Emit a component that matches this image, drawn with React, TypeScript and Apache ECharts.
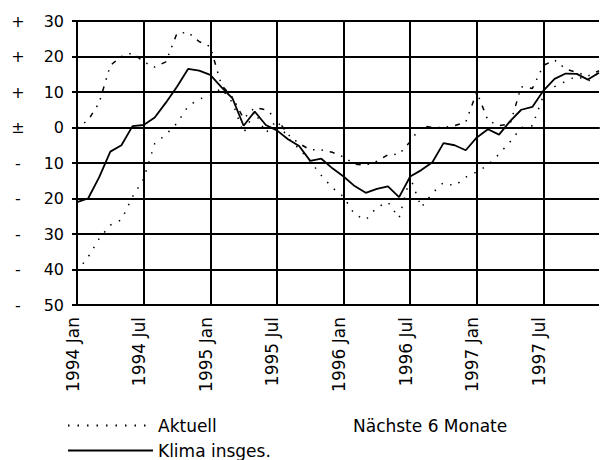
import React, { useEffect, useRef } from "react";
import * as echarts from "echarts";

const years = [1994, 1995, 1996, 1997];
const monthNames = ["Jan", "Feb", "Mär", "Apr", "Mai", "Jun", "Jul", "Aug", "Sep", "Okt", "Nov", "Dez"];
const categories: string[] = [];
years.forEach((y) => monthNames.forEach((m) => categories.push(`${y} ${m}`)));

const aktuell = [
  -40.5, -36.5, -31.3, -27.5, -26, -19.5, -14.5, -4.5, -2, 1.2, 6, 8,
  9, 11, 7, -1.6, 4.5, -1.5, 2, -3, -6, -9.5, -13.5, -17,
  -19.5, -24.5, -26, -22.5, -21, -25.5, -14, -22.5, -18.5, -15.5, -16.5, -14,
  -12.5, -10.6, -7.5, -4, 0, 0.5, 9, 11.5, 13, 14.5, 13, 15.5,
];

const naechste = [
  0, 2, 7, 17.5, 20, 21, 18.5, 17, 18.5, 26.5, 26.8, 24.2,
  22.8, 12, 8.5, 2.5, 5.6, 5, 2.5, -2, -4.5, -6.3, -6.3, -7,
  -8.3, -10.3, -10.6, -9.5, -7.7, -7.5, -4, 0.5, 0, 0, 0.5, 1.5,
  10, 2, 0.5, 1, 11.5, 11, 17.5, 19, 16.5, 15.5, 14.5, 16,
];

const klima = [
  -21, -20, -14, -6.8, -5, 0.4, 0.7, 2.8, 7, 11.5, 16.5, 16,
  14.8, 11.4, 8.2, 0.5, 4.5, 0.7, -0.8, -3.3, -5.2, -9.4, -8.8, -11.5,
  -13.8, -16.5, -18.4, -17.3, -16.6, -19.6, -13.8, -12, -9.8, -4.4, -5, -6.4,
  -2.8, -0.5, -2, 1.8, 5, 5.8, 10.4, 13.7, 15.2, 15.1, 13.5, 15.4,
];

const FONT = "DejaVu Sans";

export default function App() {
  const ref = useRef<HTMLDivElement>(null);
  useEffect(() => {
    if (!ref.current) return;
    const chart = echarts.init(ref.current, undefined, { renderer: "svg" });
    const legendText = { fontFamily: FONT, fontSize: 17, color: "#000" };
    chart.setOption({
      animation: false,
      backgroundColor: "#fff",
      grid: { left: 77, right: 12, top: 21, bottom: 155, containLabel: false },
      legend: [
        {
          data: ["Aktuell"], left: 67, top: 417, padding: 0, itemWidth: 85, itemHeight: 14,
          selectedMode: false, textStyle: legendText, itemStyle: { opacity: 0 },
        },
        {
          data: ["Klima insges."], left: 67, top: 442, padding: 0, itemWidth: 85, itemHeight: 14,
          selectedMode: false, textStyle: legendText, itemStyle: { opacity: 0 },
        },
        {
          data: ["Nächste 6 Monate"], left: 262, top: 417, padding: 0, itemWidth: 85, itemHeight: 14,
          selectedMode: false, textStyle: legendText,
          itemStyle: { opacity: 0 }, lineStyle: { opacity: 0 },
        },
      ],
      xAxis: {
        type: "category",
        data: categories,
        boundaryGap: false,
        axisLine: { show: true, lineStyle: { color: "#000", width: 2 } },
        axisTick: { show: false },
        axisLabel: {
          interval: 5, rotate: 90, margin: 12, color: "#000",
          fontFamily: FONT, fontSize: 17, lineHeight: 9,
          align: "right", verticalAlign: "bottom",
        },
        splitLine: { show: true, interval: 5, lineStyle: { color: "#000", width: 2 } },
      },
      yAxis: {
        type: "value",
        min: -50, max: 30, interval: 10,
        axisLine: { show: true, lineStyle: { color: "#000", width: 2 } },
        axisTick: { show: true, length: 5, lineStyle: { color: "#000", width: 2 } },
        axisLabel: {
          margin: 13, color: "#000", fontFamily: FONT, fontSize: 16,
          formatter: (v: number) => {
            const s = v > 0 ? "+" : v < 0 ? "-" : "±";
            return `{s|${s}}{n|${Math.abs(v)}}`;
          },
          rich: {
            s: { width: 14, align: "center", fontFamily: FONT, fontSize: 16, color: "#000" },
            n: { width: 39, align: "right", fontFamily: FONT, fontSize: 16, color: "#000" },
          },
        },
        splitLine: { show: true, lineStyle: { color: "#000", width: 2 } },
      },
      series: [
        {
          name: "Aktuell", type: "line", data: aktuell, symbol: "none", z: 3,
          lineStyle: { color: "#000", width: 1.5, type: [1.5, 8] }, itemStyle: { color: "#000" },
        },
        {
          name: "Nächste 6 Monate", type: "line", data: naechste, symbol: "none", z: 3,
          lineStyle: { color: "#000", width: 1.5, type: [1.5, 7, 1.5, 7, 5, 7] }, itemStyle: { color: "#000" },
        },
        {
          name: "Klima insges.", type: "line", data: klima, symbol: "none", z: 4,
          lineStyle: { color: "#000", width: 1.8, type: "solid" }, itemStyle: { color: "#000" },
        },
      ],
    });
    return () => chart.dispose();
  }, []);
  return (
    <div
      ref={ref}
      style={{ position: "fixed", left: 0, top: 0, width: 611, height: 460 }}
    />
  );
}
